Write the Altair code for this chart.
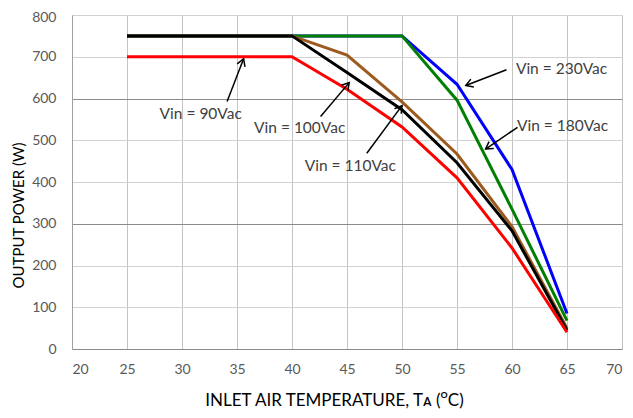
import math
import altair as alt
import pandas as pd

# ---------------- data ----------------
temps = [25, 40, 45, 50, 55, 60, 65]
series_names = ["Vin = 230Vac", "Vin = 180Vac", "Vin = 110Vac", "Vin = 100Vac", "Vin = 90Vac"]
series_colors = ["#0000ff", "#008000", "#9c5a1e", "#000000", "#ff0000"]
p_230 = [750, 750, 750, 750, 634, 430, 85]
p_180 = [750, 750, 750, 750, 596, 335, 68]
p_110 = [750, 750, 704, 592, 467, 293, 50]
p_100 = [750, 750, 662, 573, 446, 283, 45]
p_90 = [700, 700, 622, 532, 410, 242, 40]
series_values = [p_230, p_180, p_110, p_100, p_90]

# annotations
ann_text = ["Vin = 90Vac", "Vin = 100Vac", "Vin = 110Vac", "Vin = 230Vac", "Vin = 180Vac"]
ann_x = [31.7, 40.7, 45.3, 64.5, 64.6]
ann_y = [562, 529, 438, 671, 533]
arrow_tail_x = [34.1, 42.6, 46.8, 59.5, 60.5]
arrow_tail_y = [593, 557, 469, 669, 531]
arrow_head_x = [35.6, 45.2, 50.0, 55.8, 57.6]
arrow_head_y = [695, 638, 583, 631, 479]

x_ticks = list(range(20, 71, 5))
y_ticks = list(range(0, 801, 100))

# ---------------- chart ----------------
W, H = 550, 334
X_DOM, Y_DOM = (20, 70), (0, 800)
FONT = "Lato"

xs = alt.Scale(domain=list(X_DOM), nice=False, zero=False)
ys = alt.Scale(domain=list(Y_DOM), nice=False)

x_axis = alt.Axis(
    values=x_ticks, ticks=False, labelFont=FONT, labelFontSize=14,
    labelColor="#595959", labelPadding=13, domainColor="#8a8a8a",
    gridColor="#c4c4c4", gridWidth=1,
    title="INLET AIR TEMPERATURE, Tᴀ (ᴼC)", titleFont=FONT, titleFontSize=17,
    titleFontWeight="normal", titleColor="#000000", titleY=51,
    titleBaseline="middle", titleX=262,
)
y_axis = alt.Axis(
    values=y_ticks, ticks=False, labelFont=FONT, labelFontSize=14,
    labelColor="#595959", labelPadding=16, domainColor="#a0a0a0",
    labelOffset={"condition": {"test": "datum.value == 800", "value": 2}, "value": 0},
    gridColor={"condition": {"test": "datum.value == 300 || datum.value == 600",
                             "value": "#8c8c8c"}, "value": "#d2d2d2"},
    gridWidth=1,
    title="OUTPUT POWER (W)", titleFont=FONT, titleFontSize=15,
    titleFontWeight="normal", titleColor="#000000", titleX=-46, titleY=200,
)

layers = []
base_df = pd.DataFrame({"t": [X_DOM[0]], "p": [Y_DOM[0]]})
layers.append(
    alt.Chart(base_df).mark_point(opacity=0).encode(
        x=alt.X("t:Q", scale=xs, axis=x_axis),
        y=alt.Y("p:Q", scale=ys, axis=y_axis),
    )
)

for name, color, vals in zip(series_names, series_colors, series_values):
    df = pd.DataFrame({"t": temps, "p": vals, "s": name})
    layers.append(
        alt.Chart(df).mark_line(color=color, strokeWidth=3).encode(
            x=alt.X("t:Q", scale=xs),
            y=alt.Y("p:Q", scale=ys),
        )
    )

# arrows
sx = W / (X_DOM[1] - X_DOM[0])
sy = H / (Y_DOM[1] - Y_DOM[0])
angles = []
for tx, ty, hx, hy in zip(arrow_tail_x, arrow_tail_y, arrow_head_x, arrow_head_y):
    dx = (hx - tx) * sx
    dy = -(hy - ty) * sy
    angles.append(math.degrees(math.atan2(dy, dx)) % 360)

arr_df = pd.DataFrame({
    "tx": arrow_tail_x, "ty": arrow_tail_y,
    "hx": arrow_head_x, "hy": arrow_head_y, "ang": angles,
})
layers.append(
    alt.Chart(arr_df).mark_rule(color="#000000", strokeWidth=1.5).encode(
        x=alt.X("tx:Q", scale=xs), y=alt.Y("ty:Q", scale=ys),
        x2="hx:Q", y2="hy:Q",
    )
)
layers.append(
    alt.Chart(arr_df).mark_point(
        shape="M-1,-0.6L0,0L-1,0.6", filled=False, color="#000000",
        strokeWidth=1.5, size=196, opacity=1,
    ).encode(
        x=alt.X("hx:Q", scale=xs), y=alt.Y("hy:Q", scale=ys),
        angle=alt.Angle("ang:Q", scale=None),
    )
)

ann_df = pd.DataFrame({"label": ann_text, "x": ann_x, "y": ann_y})
layers.append(
    alt.Chart(ann_df).mark_text(
        font=FONT, fontSize=15.5, color="#404040", align="center", baseline="middle",
    ).encode(
        x=alt.X("x:Q", scale=xs), y=alt.Y("y:Q", scale=ys), text="label:N",
    )
)

chart = alt.layer(*layers).properties(
    width=W, height=H,
    autosize=alt.AutoSizeParams(type="none"),
    padding={"left": 64, "top": 7, "right": 3, "bottom": 61},
).configure_view(stroke="#bdbdbd", strokeWidth=1).configure(background="#ffffff")

chart.save("out.html", embed_options={"renderer": "svg", "actions": False})
